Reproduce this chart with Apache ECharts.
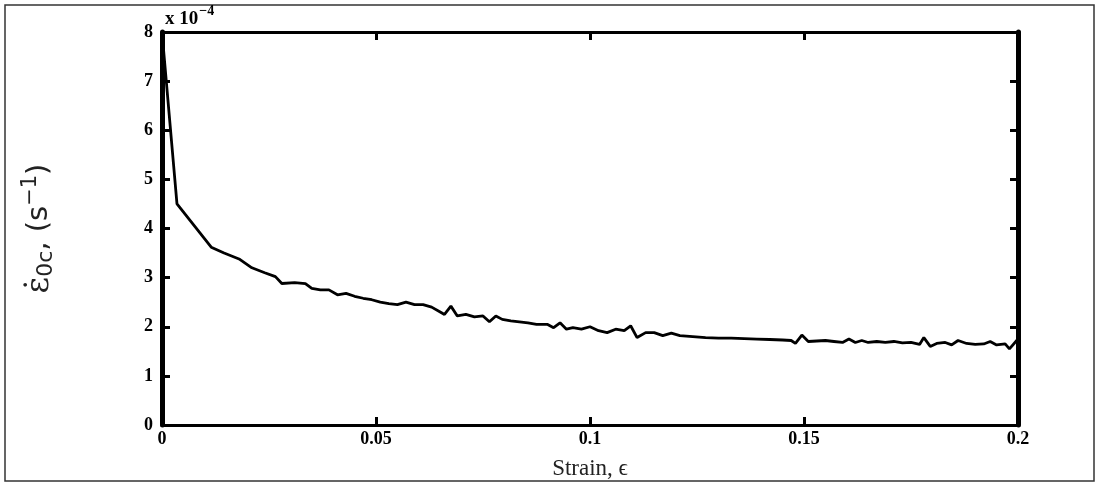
<!DOCTYPE html>
<html><head><meta charset="utf-8">
<script src="https://cdn.jsdelivr.net/npm/echarts@6/dist/echarts.min.js"></script>
<style>html,body{margin:0;padding:0;background:#fff}#c{width:1099px;height:485px}</style>
</head><body><div id="c"></div>
<script>
const strain = [0,0.0035,0.0115,0.0145,0.018,0.021,0.024,0.0265,0.028,0.031,0.0335,0.035,0.037,0.039,0.041,0.043,0.045,0.047,0.049,0.051,0.053,0.055,0.057,0.059,0.061,0.063,0.065,0.066,0.0675,0.069,0.071,0.073,0.075,0.0765,0.078,0.0795,0.0815,0.0835,0.0855,0.0875,0.09,0.0915,0.093,0.0945,0.096,0.098,0.1,0.102,0.104,0.106,0.108,0.1095,0.111,0.113,0.115,0.117,0.119,0.121,0.124,0.127,0.13,0.133,0.136,0.139,0.142,0.145,0.147,0.148,0.1495,0.151,0.153,0.155,0.157,0.159,0.1605,0.162,0.1635,0.165,0.167,0.169,0.171,0.173,0.175,0.177,0.178,0.1795,0.181,0.183,0.1845,0.186,0.188,0.19,0.192,0.1935,0.195,0.197,0.198,0.2];
const rate = [8.0,4.5,3.62,3.5,3.38,3.2,3.1,3.02,2.88,2.9,2.88,2.78,2.75,2.75,2.65,2.68,2.62,2.58,2.55,2.5,2.47,2.45,2.5,2.45,2.45,2.4,2.3,2.25,2.42,2.22,2.25,2.2,2.22,2.1,2.22,2.15,2.12,2.1,2.08,2.05,2.05,1.98,2.08,1.95,1.98,1.95,2.0,1.92,1.88,1.95,1.92,2.02,1.78,1.88,1.88,1.82,1.87,1.82,1.8,1.78,1.77,1.77,1.76,1.75,1.74,1.73,1.72,1.66,1.83,1.7,1.71,1.72,1.7,1.68,1.75,1.68,1.72,1.68,1.7,1.68,1.7,1.67,1.68,1.64,1.78,1.6,1.66,1.68,1.63,1.72,1.66,1.64,1.65,1.7,1.63,1.65,1.55,1.75];
const xTicks = [0,0.05,0.1,0.15,0.2];
const yTicks = [0,1,2,3,4,5,6,7,8];

const data = strain.map((s,i)=>[s,rate[i]]);
const chart = echarts.init(document.getElementById('c'));
const lblFont = {fontFamily:'Liberation Serif',fontWeight:'bold',fontSize:18,color:'#000'};
const tick = {show:true,inside:true,length:8,lineStyle:{color:'#000',width:3}};
chart.setOption({
  animation:false,
  backgroundColor:'#fff',
  grid:{left:162,right:81,top:32,bottom:57,containLabel:false},
  xAxis:[{
    type:'value',min:0,max:0.2,interval:0.05,position:'bottom',
    axisLine:{show:true,onZero:false,lineStyle:{color:'#000',width:3}},
    axisTick:tick,
    axisLabel:Object.assign({margin:5,formatter:v=>String(+v.toFixed(2))},lblFont),
    splitLine:{show:false},
    name:'Strain, ϵ',nameLocation:'middle',nameGap:32,
    nameTextStyle:{fontFamily:'Liberation Serif',fontSize:23,color:'#222'}
  },{
    type:'value',min:0,max:0.2,interval:0.05,position:'top',
    axisLine:{show:true,onZero:false,lineStyle:{color:'#000',width:3}},
    axisTick:tick,
    axisLabel:{show:false},splitLine:{show:false}
  }],
  yAxis:[{
    type:'value',min:0,max:8,interval:1,position:'left',
    axisLine:{show:true,onZero:false,lineStyle:{color:'#000',width:5}},
    axisTick:tick,
    axisLabel:Object.assign({margin:9},lblFont),
    splitLine:{show:false},
    name:'{e|ε̇}{sub|0c}{n|, (s}{sup|−1}{n|)}',nameLocation:'middle',nameGap:103,nameRotate:90,
    nameTextStyle:{
      rich:{
        e:{fontFamily:'DejaVu Serif',fontSize:32,color:'#222'},
        sub:{fontFamily:'DejaVu Sans',fontSize:22,color:'#222',padding:[14,0,0,0]},
        n:{fontFamily:'DejaVu Sans',fontSize:29,color:'#222'},
        sup:{fontFamily:'DejaVu Sans',fontSize:21,color:'#222',padding:[0,0,18,0]}
      }
    }
  },{
    type:'value',min:0,max:8,interval:1,position:'right',
    axisLine:{show:true,onZero:false,lineStyle:{color:'#000',width:5}},
    axisTick:tick,
    axisLabel:{show:false},splitLine:{show:false}
  }],
  graphic:[
    {type:'rect',shape:{x:5,y:5,width:1089,height:476},style:{fill:null,stroke:'#333',lineWidth:1.5},silent:true},
    {type:'text',left:165,top:4,style:{
      text:'{a|x 10}{b|−4}',
      rich:{
        a:{fontFamily:'Liberation Serif',fontWeight:'bold',fontSize:19,color:'#000',padding:[9,0,0,0]},
        b:{fontFamily:'Liberation Serif',fontWeight:'bold',fontSize:14,color:'#000',padding:[0,0,7,1]}
      }
    }}
  ],
  series:[{
    type:'line',data:data,showSymbol:false,symbol:'none',
    lineStyle:{color:'#000',width:2.8},
    xAxisIndex:0,yAxisIndex:0
  }]
});
</script></body></html>
